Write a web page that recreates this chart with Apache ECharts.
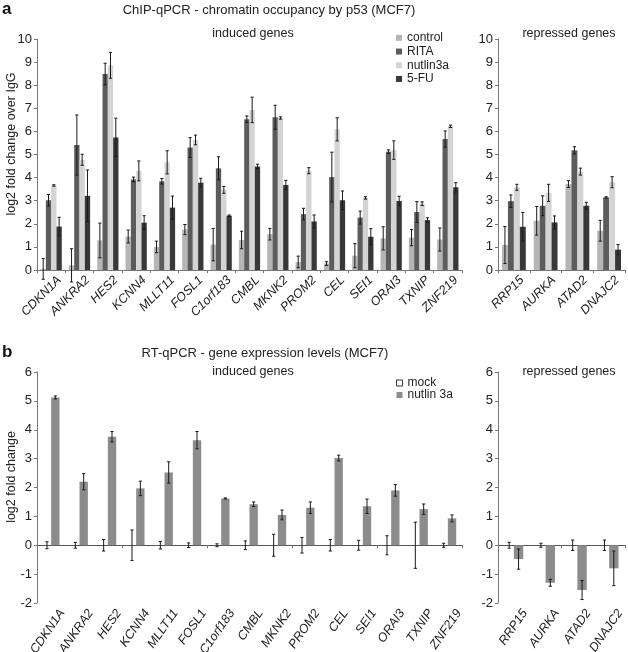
<!DOCTYPE html>
<html>
<head>
<meta charset="utf-8">
<script src="https://cdn.jsdelivr.net/npm/echarts@6.0.0/dist/echarts.min.js"></script>
<style>
  html, body { margin: 0; padding: 0; background: #fff; }
  #chart { width: 628px; height: 652px; }
</style>
</head>
<body>
<div id="chart"></div>
<script>
// gene names
const inducedGenes = ['CDKN1A', 'ANKRA2', 'HES2', 'KCNN4', 'MLLT11', 'FOSL1', 'C1orf183', 'CMBL',
  'MKNK2', 'PROM2', 'CEL', 'SEI1', 'ORAI3', 'TXNIP', 'ZNF219'];
const repressedGenes = ['RRP15', 'AURKA', 'ATAD2', 'DNAJC2'];

// panel a: ChIP-qPCR, log2 fold change over IgG (induced genes)
const chipControl = [0.05, 0.2, 1.28, 1.45, 1.0, 1.75, 1.1, 1.3, 1.55, 0.35, 0.28, 0.62, 1.37, 1.4, 1.32];
const chipControlErr = [0.45, 0.72, 0.75, 0.28, 0.25, 0.22, 0.7, 0.38, 0.25, 0.25, 0.08, 0.52, 0.5, 0.35, 0.5];
const chipRita = [3.02, 5.41, 8.48, 3.92, 3.84, 5.3, 4.4, 6.53, 6.61, 2.42, 4.02, 2.27, 5.12, 2.51, 5.67];
const chipRitaErr = [0.25, 1.3, 0.47, 0.1, 0.12, 0.43, 0.5, 0.14, 0.52, 0.25, 1.08, 0.28, 0.08, 0.45, 0.35];
const chipNutlin = [3.66, 4.77, 8.86, 4.29, 4.66, 5.63, 3.47, 6.93, 6.58, 4.3, 6.09, 3.12, 5.19, 2.87, 6.22];
const chipNutlinErr = [0.03, 0.24, 0.56, 0.43, 0.5, 0.21, 0.15, 0.55, 0.05, 0.13, 0.5, 0.05, 0.4, 0.08, 0.05];
const chipFu = [1.88, 3.21, 5.74, 2.05, 2.7, 3.78, 2.35, 4.48, 3.68, 2.1, 3.02, 1.44, 2.99, 2.16, 3.58];
const chipFuErr = [0.4, 1.12, 0.83, 0.3, 0.5, 0.19, 0.03, 0.1, 0.2, 0.28, 0.4, 0.35, 0.2, 0.1, 0.2];

// panel a: repressed genes
const chipControlRep = [1.08, 2.13, 3.72, 1.7];
const chipControlRepErr = [0.8, 0.62, 0.15, 0.45];
const chipRitaRep = [2.98, 2.78, 5.18, 3.14];
const chipRitaRepErr = [0.27, 0.43, 0.16, 0.03];
const chipNutlinRep = [3.58, 3.34, 4.26, 3.8];
const chipNutlinRepErr = [0.13, 0.37, 0.15, 0.24];
const chipFuRep = [1.87, 2.06, 2.78, 0.88];
const chipFuRepErr = [0.62, 0.28, 0.15, 0.22];

// panel b: RT-qPCR, log2 fold change (induced genes)
const rtMock = [0, 0, 0, 0, 0, 0, 0, 0, 0, 0, 0, 0, 0, 0, 0];
const rtMockErr = [0.12, 0.1, 0.2, 0.53, 0.13, 0.08, 0.05, 0.15, 0.38, 0.27, 0.2, 0.17, 0.33, 0.8, 0.07];
const rtNutlin = [5.12, 2.2, 3.76, 1.97, 2.52, 3.64, 1.62, 1.42, 1.05, 1.3, 3.02, 1.35, 1.9, 1.25, 0.93];
const rtNutlinErr = [0.05, 0.28, 0.18, 0.25, 0.37, 0.3, 0.02, 0.08, 0.17, 0.2, 0.1, 0.25, 0.2, 0.18, 0.12];

// panel b: repressed genes
const rtMockRep = [0, 0, 0, 0];
const rtMockRepErr = [0.1, 0.07, 0.18, 0.18];
const rtNutlinRep = [-0.48, -1.3, -1.55, -0.8];
const rtNutlinRepErr = [0.35, 0.12, 0.33, 0.6];

const FONT = 'Liberation Sans, Arial, sans-serif';
const colControl = '#b5b5b5';
const colRita = '#5c5c5c';
const colNutlin = '#d4d4d4';
const colFu = '#383838';
const colRtNutlin = '#8c8c8c';
const axisColor = '#777';
const textColor = '#222';

const chipGap = 0.25;
const rtGap = 0.41;

// error bar drawn on top of the idx-th of count bars in a category
function errorRenderer(idx, count, gap) {
  return function (params, api) {
    const cat = api.value(0);
    const v = api.value(1);
    const e = api.value(2);
    const band = api.size([1, 0])[0];
    const barW = band * (1 - gap) / count;
    const x = api.coord([cat, v])[0] - band * (1 - gap) / 2 + barW * (idx + 0.5);
    const yTop = api.coord([cat, v + e])[1];
    const yBot = api.coord([cat, v - e])[1];
    const cap = 1.6;
    const style = { stroke: '#1a1a1a', lineWidth: 1 };
    return {
      type: 'group',
      children: [
        { type: 'line', shape: { x1: x, y1: yTop, x2: x, y2: yBot }, style: style },
        { type: 'line', shape: { x1: x - cap, y1: yTop, x2: x + cap, y2: yTop }, style: style },
        { type: 'line', shape: { x1: x - cap, y1: yBot, x2: x + cap, y2: yBot }, style: style }
      ]
    };
  };
}

function bars(name, values, color, xi, yi, gap, extra) {
  return Object.assign({
    type: 'bar',
    name: name,
    data: values,
    xAxisIndex: xi,
    yAxisIndex: yi,
    barGap: '0%',
    barCategoryGap: (gap * 100) + '%',
    itemStyle: { color: color },
    silent: true
  }, extra || {});
}

function errors(values, errs, idx, count, gap, xi, yi) {
  return {
    type: 'custom',
    xAxisIndex: xi,
    yAxisIndex: yi,
    data: values.map((v, i) => [i, v, errs[i]]),
    renderItem: errorRenderer(idx, count, gap),
    clip: false,
    silent: true,
    z: 5
  };
}

const labelStyle = { fontFamily: FONT, fontSize: 12.5, color: textColor };

function catAxis(grid, genes, showLine, rotate, pad) {
  return {
    type: 'category',
    gridIndex: grid,
    data: genes,
    axisLine: { show: showLine, onZero: false, lineStyle: { color: axisColor } },
    axisTick: { show: showLine, length: 3, lineStyle: { color: axisColor } },
    axisLabel: Object.assign({
      rotate: rotate, fontStyle: 'italic', margin: 0, interval: 0,
      align: 'right', verticalAlign: 'top', padding: [pad, 0, 0, 0]
    }, labelStyle),
    splitLine: { show: false }
  };
}

function zeroAxis(grid, genes) {
  return {
    type: 'category',
    gridIndex: grid,
    data: genes,
    position: 'top',
    axisLine: { show: true, onZero: true, lineStyle: { color: '#555', width: 1.2 } },
    axisTick: { show: true, inside: true, length: 3, lineStyle: { color: axisColor } },
    axisLabel: { show: false },
    splitLine: { show: false }
  };
}

function valAxis(grid, min, max) {
  return {
    type: 'value',
    gridIndex: grid,
    min: min,
    max: max,
    interval: 1,
    axisLine: { show: true, lineStyle: { color: axisColor } },
    axisTick: { show: true, length: 3, lineStyle: { color: axisColor } },
    axisLabel: Object.assign({ margin: 5 }, labelStyle, { fontSize: 13 }),
    splitLine: { show: false }
  };
}

const gridBase = { containLabel: false, outerBoundsMode: 'none' };

const option = {
  animation: false,
  backgroundColor: '#fff',
  textStyle: { fontFamily: FONT },
  grid: [
    Object.assign({ left: 37, top: 39, width: 425, height: 231 }, gridBase),
    Object.assign({ left: 498, top: 39, width: 127, height: 231 }, gridBase),
    Object.assign({ left: 37, top: 372, width: 425, height: 231 }, gridBase),
    Object.assign({ left: 498, top: 372, width: 127, height: 231 }, gridBase)
  ],
  xAxis: [
    catAxis(0, inducedGenes, true, 45, 5),
    catAxis(1, repressedGenes, true, 45, 5),
    catAxis(2, inducedGenes, false, 55, 7),
    catAxis(3, repressedGenes, false, 55, 7),
    zeroAxis(2, inducedGenes),
    zeroAxis(3, repressedGenes)
  ],
  yAxis: [
    valAxis(0, 0, 10),
    valAxis(1, 0, 10),
    valAxis(2, -2, 6),
    valAxis(3, -2, 6)
  ],
  legend: [
    {
      data: ['control', 'RITA', 'nutlin3a', '5-FU'],
      orient: 'vertical',
      left: 396,
      top: 31,
      padding: 0,
      itemGap: 0,
      itemWidth: 6,
      itemHeight: 6,
      icon: 'rect',
      selectedMode: false,
      textStyle: { fontFamily: FONT, fontSize: 12, color: textColor, lineHeight: 13.7, padding: [0, 0, 0, 0] }
    },
    {
      data: [
        { name: 'mock', itemStyle: { color: '#fff', borderColor: '#333', borderWidth: 1 } },
        'nutlin 3a'
      ],
      orient: 'vertical',
      left: 396,
      top: 377,
      padding: 0,
      itemGap: 0,
      itemWidth: 6,
      itemHeight: 6,
      icon: 'rect',
      selectedMode: false,
      textStyle: { fontFamily: FONT, fontSize: 12, color: textColor, lineHeight: 11.5 }
    }
  ],
  series: [
    bars('control', chipControl, colControl, 0, 0, chipGap),
    bars('RITA', chipRita, colRita, 0, 0, chipGap),
    bars('nutlin3a', chipNutlin, colNutlin, 0, 0, chipGap),
    bars('5-FU', chipFu, colFu, 0, 0, chipGap),
    errors(chipControl, chipControlErr, 0, 4, chipGap, 0, 0),
    errors(chipRita, chipRitaErr, 1, 4, chipGap, 0, 0),
    errors(chipNutlin, chipNutlinErr, 2, 4, chipGap, 0, 0),
    errors(chipFu, chipFuErr, 3, 4, chipGap, 0, 0),

    bars('control', chipControlRep, colControl, 1, 1, chipGap),
    bars('RITA', chipRitaRep, colRita, 1, 1, chipGap),
    bars('nutlin3a', chipNutlinRep, colNutlin, 1, 1, chipGap),
    bars('5-FU', chipFuRep, colFu, 1, 1, chipGap),
    errors(chipControlRep, chipControlRepErr, 0, 4, chipGap, 1, 1),
    errors(chipRitaRep, chipRitaRepErr, 1, 4, chipGap, 1, 1),
    errors(chipNutlinRep, chipNutlinRepErr, 2, 4, chipGap, 1, 1),
    errors(chipFuRep, chipFuRepErr, 3, 4, chipGap, 1, 1),

    bars('mock', rtMock, '#fff', 2, 2, rtGap, { itemStyle: { color: '#fff', borderColor: '#333', borderWidth: 0 } }),
    bars('nutlin 3a', rtNutlin, colRtNutlin, 2, 2, rtGap),
    errors(rtMock, rtMockErr, 0, 2, rtGap, 2, 2),
    errors(rtNutlin, rtNutlinErr, 1, 2, rtGap, 2, 2),

    bars('mock', rtMockRep, '#fff', 3, 3, rtGap, { itemStyle: { color: '#fff', borderColor: '#333', borderWidth: 0 } }),
    bars('nutlin 3a', rtNutlinRep, colRtNutlin, 3, 3, rtGap),
    errors(rtMockRep, rtMockRepErr, 0, 2, rtGap, 3, 3),
    errors(rtNutlinRep, rtNutlinRepErr, 1, 2, rtGap, 3, 3)
  ],
  graphic: [
    { type: 'text', left: 2, top: 1, style: { text: 'a', font: 'bold 17px ' + FONT, fill: '#111' } },
    { type: 'text', left: 2, top: 344, style: { text: 'b', font: 'bold 17px ' + FONT, fill: '#111' } },
    { type: 'text', x: 269, y: 10, style: { text: 'ChIP-qPCR - chromatin occupancy by p53 (MCF7)', font: '13px ' + FONT, fill: textColor, textAlign: 'center', textVerticalAlign: 'middle' } },
    { type: 'text', x: 265, y: 353, style: { text: 'RT-qPCR - gene expression levels (MCF7)', font: '13px ' + FONT, fill: textColor, textAlign: 'center', textVerticalAlign: 'middle' } },
    { type: 'text', x: 253, y: 34, style: { text: 'induced genes', font: '12.5px ' + FONT, fill: textColor, textAlign: 'center', textVerticalAlign: 'middle' } },
    { type: 'text', x: 569, y: 34, style: { text: 'repressed genes', font: '12.5px ' + FONT, fill: textColor, textAlign: 'center', textVerticalAlign: 'middle' } },
    { type: 'text', x: 253, y: 372, style: { text: 'induced genes', font: '12.5px ' + FONT, fill: textColor, textAlign: 'center', textVerticalAlign: 'middle' } },
    { type: 'text', x: 569, y: 372, style: { text: 'repressed genes', font: '12.5px ' + FONT, fill: textColor, textAlign: 'center', textVerticalAlign: 'middle' } },
    { type: 'text', x: 12, y: 144, rotation: Math.PI / 2, style: { text: 'log2 fold change over IgG', font: '12.5px ' + FONT, fill: textColor, textAlign: 'center', textVerticalAlign: 'middle' } },
    { type: 'text', x: 12, y: 477, rotation: Math.PI / 2, style: { text: 'log2 fold change', font: '12.5px ' + FONT, fill: textColor, textAlign: 'center', textVerticalAlign: 'middle' } }
  ]
};

const chart = echarts.init(document.getElementById('chart'), null, { renderer: 'canvas' });
chart.setOption(option);
</script>
</body>
</html>
